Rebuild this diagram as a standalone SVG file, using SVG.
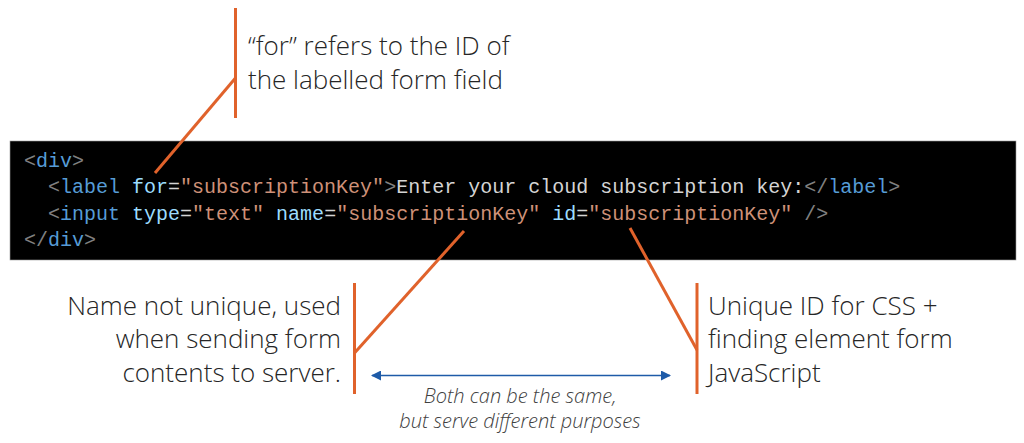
<svg xmlns="http://www.w3.org/2000/svg" width="1024" height="443" viewBox="0 0 1024 443">
<defs>
<style>
.code{font-family:"Liberation Mono","DejaVu Sans Mono",monospace;font-size:20px;fill:#d4d4d4}
.p{fill:#808080}.t{fill:#569cd6}.a{fill:#9cdcfe}.s{fill:#ce9178}.w{fill:#d4d4d4}
.note{font-family:"Open Sans","Noto Sans","Liberation Sans",sans-serif;font-weight:300;font-size:26px;fill:#262626}
.small{font-family:"Open Sans","Noto Sans","Liberation Sans",sans-serif;font-weight:300;font-style:italic;font-size:20px;fill:#404040}
.lead{stroke:#e0622b;stroke-width:3;fill:none;stroke-linecap:butt}
</style>
<marker id="ah" viewBox="0 0 10 10" refX="9" refY="5" markerWidth="10" markerHeight="10" markerUnits="userSpaceOnUse" orient="auto-start-reverse">
<path d="M0,0 L10,5 L0,10 z" fill="#1e5ba8"/>
</marker>
</defs>
<rect width="1024" height="443" fill="#ffffff"/>
<g id="code-block">
<rect x="10" y="141" width="1006" height="119" fill="#000000" stroke="#9a9a9a" stroke-width="0.6"/>
<text class="code" xml:space="preserve" x="24" y="167"><tspan class="p">&lt;</tspan><tspan class="t">div</tspan><tspan class="p">&gt;</tspan></text>
<text class="code" xml:space="preserve" x="48" y="193"><tspan class="p">&lt;</tspan><tspan class="t">label</tspan> <tspan class="a">for</tspan><tspan class="w">=</tspan><tspan class="s">"subscriptionKey"</tspan><tspan class="p">&gt;</tspan><tspan class="w">Enter your cloud subscription key:</tspan><tspan class="p">&lt;/</tspan><tspan class="t">label</tspan><tspan class="p">&gt;</tspan></text>
<text class="code" xml:space="preserve" x="48" y="220"><tspan class="p">&lt;</tspan><tspan class="t">input</tspan> <tspan class="a">type</tspan><tspan class="w">=</tspan><tspan class="s">"text"</tspan> <tspan class="a">name</tspan><tspan class="w">=</tspan><tspan class="s">"subscriptionKey"</tspan> <tspan class="a">id</tspan><tspan class="w">=</tspan><tspan class="s">"subscriptionKey"</tspan> <tspan class="p">/&gt;</tspan></text>
<text class="code" xml:space="preserve" x="24" y="246"><tspan class="p">&lt;/</tspan><tspan class="t">div</tspan><tspan class="p">&gt;</tspan></text>
</g>
<g id="note-for">
<text class="note" x="248" y="55">“for” refers to the ID of</text>
<text class="note" x="248" y="89">the labelled form field</text>
</g>
<g id="note-name">
<text class="note" x="341" y="315" text-anchor="end">Name not unique, used</text>
<text class="note" x="341" y="348" text-anchor="end">when sending form</text>
<text class="note" x="341" y="382" text-anchor="end">contents to server.</text>
</g>
<g id="note-id">
<text class="note" x="708" y="315">Unique ID for CSS +</text>
<text class="note" x="708" y="348">finding element form</text>
<text class="note" x="708" y="382">JavaScript</text>
</g>
<g id="note-both">
<text class="small" x="520" y="403" text-anchor="middle">Both can be the same,</text>
<text class="small" x="520" y="428" text-anchor="middle">but serve different purposes</text>
</g>
<g id="connectors">
<line class="lead" x1="235.5" y1="8" x2="235.5" y2="118"/>
<line class="lead" x1="235.5" y1="78" x2="155" y2="173"/>
<line class="lead" x1="354.5" y1="283" x2="354.5" y2="394"/>
<line class="lead" x1="354.5" y1="353" x2="464" y2="231"/>
<line class="lead" x1="697" y1="283" x2="697" y2="394"/>
<line class="lead" x1="697" y1="350" x2="630" y2="228"/>
<line x1="372" y1="375.5" x2="670" y2="375.5" stroke="#1e5ba8" stroke-width="1.5" marker-start="url(#ah)" marker-end="url(#ah)"/>
</g>
</svg>
